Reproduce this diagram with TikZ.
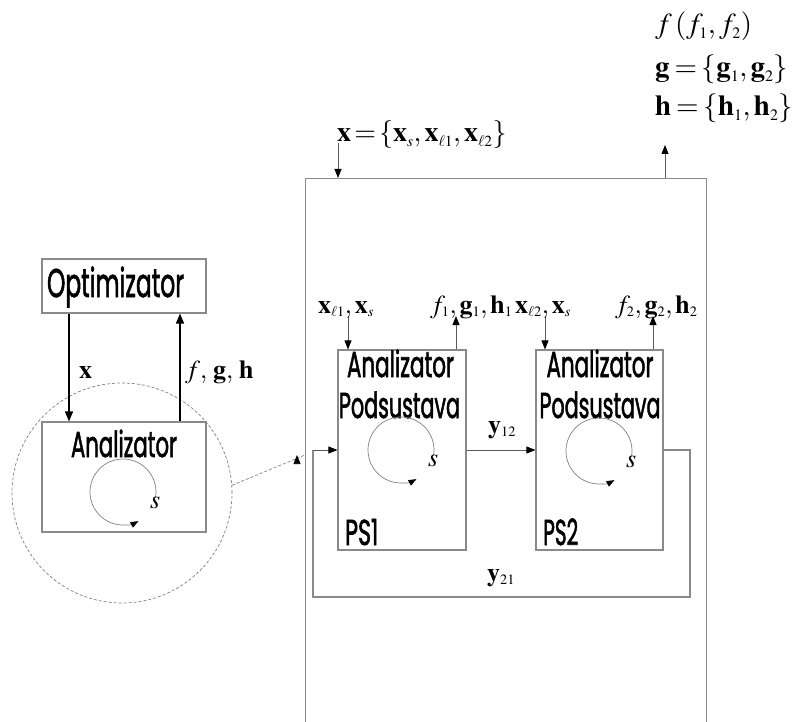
\documentclass[tikz,border=0pt]{standalone}
\usepackage{mathptmx}
\usepackage[no-math]{fontspec}
\usepackage{graphicx}
\usetikzlibrary{arrows.meta,calc}
\renewcommand{\defaultscriptratio}{.55}
\renewcommand{\defaultscriptscriptratio}{.42}
\newfontfamily\boxfont[FakeBold=2]{Poppins}
\newcommand{\bt}[3]{\resizebox{#1}{\height}{\boxfont\fontsize{#2}{#2}\selectfont #3}}
\newcommand{\mt}{\fontsize{26}{30}\selectfont\thickmuskip=2mu\relax\medmuskip=2mu\relax}
\newcommand{\mtx}{\fontsize{28}{30}\selectfont\thickmuskip=2mu\relax\medmuskip=2mu\relax}
\newcommand{\mtb}{\fontsize{29}{34}\selectfont\thickmuskip=3mu\relax\medmuskip=2mu\relax}
\newcommand{\cm}{{,}\mkern2mu}
\definecolor{boxgray}{HTML}{8A8A8A}
\definecolor{linegray}{HTML}{5A5A5A}
\begin{document}
\begin{tikzpicture}[x=1pt,y=-1pt,
  box/.style={draw=boxgray, line width=1.1pt, inner sep=0pt},
  lab/.style={anchor=base west, inner sep=0pt, font=\mt},
  labx/.style={anchor=base west, inner sep=0pt, font=\mtx},
  labb/.style={anchor=base west, inner sep=0pt, font=\mtb},
  txt/.style={anchor=base, inner sep=0pt},
  thickarr/.style={line width=1.4pt, -{Triangle[length=10pt,width=8pt]}},
  thinarr/.style={draw=linegray, line width=0.8pt, -{Triangle[length=9pt,width=7pt,color=black]}},
  loopline/.style={draw=gray, line width=0.7pt, -{Triangle[length=8pt,width=6pt,color=black]}},
  fb/.style={draw=boxgray, line width=1.1pt}]
\useasboundingbox (0,0) rectangle (797,722);

% left part
\node[box, minimum width=164pt, minimum height=54pt] (opt) at (124,286) {};
\node[txt] (optt) at (115.5,297) {\bt{137pt}{40}{Optimizator}};
\node[box, minimum width=164pt, minimum height=110pt] (ana) at (124,477) {};
\node[txt] (anat) at (124,457) {\bt{106pt}{36}{Analizator}};
\node[circle, draw=gray, dashed, dash pattern=on 3pt off 2pt, line width=0.7pt, minimum size=220pt, inner sep=0pt] (zoomc) at (122,493) {};

\draw[thickarr] (opt.south -| 69,0) -- (ana.north -| 69,0);
\draw[thickarr] (ana.north -| 180,0) -- (opt.south -| 180,0);
\node[lab] (lx) at (79,378) {$\mathbf{x}$};
\node[lab] (lfgh) at (185,378) {$f\cm\,\mathbf{g}\cm\,\mathbf{h}$};

\coordinate (lc) at (123,492);
\draw[loopline] ([shift={(-10:33pt)}]lc) arc[start angle=-10, end angle=298, radius=33pt];
\node[lab] (ls) at (150,508) {$s$};

% big box
\node[box, minimum width=401pt, minimum height=548pt, anchor=north west] (big) at (305,178) {};
\draw[dashed, dash pattern=on 3pt off 2pt, draw=gray, line width=0.7pt, -{Triangle[length=9pt,width=7pt,color=black]}] (zoomc.4) -- (big.west |- 0,455) ++(-8,0) coordinate (dend);

\coordinate (bin) at (338,143);
\coordinate (bout) at (665,145);
\draw[thinarr] (bin) -- (bin |- big.north);
\draw[thinarr] (bout |- big.north) -- (bout);
\node[labx] (lxall) at (337,142) {$\mathbf{x}=\{\mathbf{x}_s\cm\mathbf{x}_{\ell 1}\cm\mathbf{x}_{\ell 2}\}$};
\node[labb] (lf) at (655,34) {$f\,(f_1\cm f_2)$};
\node[labb] (lg) at (655,77) {$\mathbf{g}=\{\mathbf{g}_1\cm\mathbf{g}_2\}$};
\node[labb] (lh) at (655,116) {$\mathbf{h}=\{\mathbf{h}_1\cm\mathbf{h}_2\}$};

% subsystems
\node[box, minimum width=128pt, minimum height=200pt] (ps1) at (402,450) {};
\node[box, minimum width=127pt, minimum height=200pt] (ps2) at (599.5,450) {};
\node[txt] (a1) at (400.5,377) {\bt{107pt}{36}{Analizator}};
\node[txt] (p1) at (399.5,418) {\bt{121pt}{36}{Podsustava}};
\node[txt, anchor=base west] (n1) at (345,545) {\bt{33pt}{36}{PS1}};
\node[txt] (a2) at (600,377) {\bt{107pt}{36}{Analizator}};
\node[txt] (p2) at (600,418) {\bt{121pt}{36}{Podsustava}};
\node[txt, anchor=base west] (n2) at (543,545) {\bt{35pt}{36}{PS2}};

\coordinate (i1) at (348,316);
\coordinate (o1) at (456,316);
\coordinate (i2) at (545,316);
\coordinate (o2) at (653,316);
\draw[thinarr] (i1) -- (i1 |- ps1.north);
\draw[thinarr] (o1 |- ps1.north) -- (o1);
\draw[thinarr] (i2) -- (i2 |- ps2.north);
\draw[thinarr] (o2 |- ps2.north) -- (o2);
\node[lab] (li1) at (318,313) {$\mathbf{x}_{\ell 1}\cm\mathbf{x}_s$};
\node[lab] (lo1) at (430,313) {$f_1\cm\mathbf{g}_1\cm\mathbf{h}_1$};
\node[lab] (li2) at (515,313) {$\mathbf{x}_{\ell 2}\cm\mathbf{x}_s$};
\node[lab] (lo2) at (615,313) {$f_2\cm\mathbf{g}_2\cm\mathbf{h}_2$};

\draw[thinarr] (ps1.east |- 0,450) -- (ps2.west |- 0,450);
\node[lab] (ly12) at (488,433) {$\mathbf{y}_{12}$};
\coordinate (fr) at (690,597);
\coordinate (fl) at (313,597);
\draw[fb] (ps2.east |- 0,450) -| (fr) -- (fl) -- (fl |- 0,450);
\draw[thinarr] (fl |- 0,450) -- (ps1.west |- 0,450);
\node[lab] (ly21) at (487,581) {$\mathbf{y}_{21}$};

\coordinate (c1) at (401,450);
\draw[loopline] ([shift={(-10:33pt)}]c1) arc[start angle=-10, end angle=298, radius=33pt];
\node[lab] (s1) at (428,466) {$s$};
\coordinate (c2) at (599,451);
\draw[loopline] ([shift={(-10:33pt)}]c2) arc[start angle=-10, end angle=298, radius=33pt];
\node[lab] (s2) at (626,467) {$s$};
\end{tikzpicture}
\end{document}
